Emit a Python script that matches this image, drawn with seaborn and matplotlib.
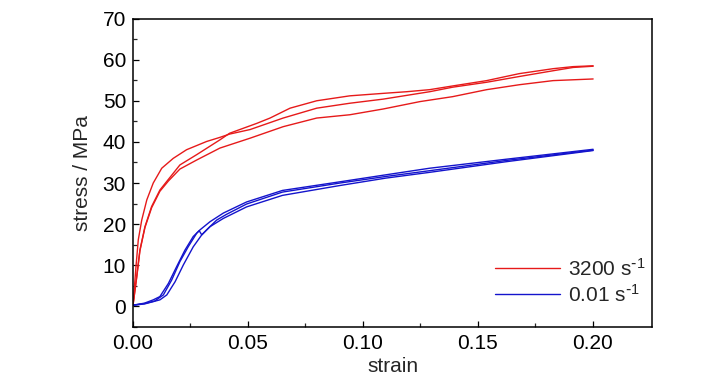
import numpy as np
import pandas as pd
import matplotlib
matplotlib.use("Agg")
import matplotlib.pyplot as plt
import seaborn as sns

# ---- data ----
rates = ["3200 s$^{\\text{-}1}$", "0.01 s$^{\\text{-}1}$"]

red_a_x = [0, 0.0016, 0.003, 0.0052, 0.0081, 0.0117, 0.0154, 0.0204, 0.0277, 0.0378, 0.042, 0.0538, 0.0596, 0.0683, 0.0799, 0.0943, 0.1088, 0.119, 0.129, 0.139, 0.1538, 0.168, 0.1827, 0.1914, 0.2001]
red_a_y = [0.3, 7.2, 13.7, 19.4, 24.3, 28.3, 30.9, 34.4, 36.9, 40.5, 42.1, 44.5, 45.8, 48.2, 50.0, 51.2, 51.8, 52.2, 52.7, 53.6, 54.9, 56.6, 57.8, 58.3, 58.5]

red_b_x = [0, 0.0013, 0.0023, 0.0038, 0.006, 0.0088, 0.0125, 0.0175, 0.0233, 0.032, 0.0378, 0.042, 0.0509, 0.0653, 0.0799, 0.0943, 0.1088, 0.129, 0.139, 0.1538, 0.168, 0.1827, 0.1914, 0.2001]
red_b_y = [0.3, 9.7, 16.2, 21.0, 25.9, 30.0, 33.6, 36.0, 38.1, 40.1, 41.1, 41.9, 43.0, 45.8, 48.2, 49.4, 50.4, 52.2, 53.3, 54.5, 55.9, 57.3, 58.1, 58.4]

red_c_x = [0, 0.0016, 0.003, 0.0052, 0.0081, 0.0117, 0.0154, 0.0204, 0.0277, 0.0378, 0.0509, 0.0653, 0.0799, 0.0943, 0.1088, 0.1248, 0.139, 0.1538, 0.168, 0.1827, 0.2001]
red_c_y = [0.3, 7.0, 13.5, 19.2, 24.0, 28.0, 30.5, 33.4, 35.6, 38.5, 40.9, 43.7, 45.8, 46.6, 48.0, 49.8, 51.0, 52.7, 53.9, 54.9, 55.3]

blue_a_x = [0, 0.005, 0.0088, 0.0117, 0.0154, 0.019, 0.0226, 0.0262, 0.0291, 0.0335, 0.0393, 0.0494, 0.065, 0.09, 0.11, 0.129, 0.1625, 0.2001]
blue_a_y = [0.3, 0.8, 1.6, 2.4, 5.6, 9.7, 13.7, 17.0, 18.6, 20.6, 22.7, 25.4, 28.2, 30.3, 32.0, 33.6, 35.8, 38.2]

blue_b_x = [0, 0.005, 0.0094, 0.0132, 0.0168, 0.0204, 0.024, 0.0277, 0.0288, 0.0299, 0.032, 0.0364, 0.0407, 0.0494, 0.065, 0.09, 0.11, 0.129, 0.1625, 0.2001]
blue_b_y = [0.3, 0.7, 1.3, 2.8, 6.4, 10.9, 14.5, 17.8, 18.4, 17.4, 18.6, 21.0, 22.4, 24.9, 27.8, 30.0, 31.6, 33.0, 35.5, 38.0]

blue_c_x = [0, 0.005, 0.0117, 0.0147, 0.0183, 0.0219, 0.0262, 0.0299, 0.0335, 0.0393, 0.0494, 0.065, 0.09, 0.11, 0.129, 0.1625, 0.2001]
blue_c_y = [0.3, 0.6, 1.6, 2.8, 6.0, 10.1, 14.5, 17.4, 19.4, 21.4, 24.2, 27.0, 29.4, 31.2, 32.6, 35.2, 37.9]

x_ticks = [0.00, 0.05, 0.10, 0.15, 0.20]
y_ticks = [0, 10, 20, 30, 40, 50, 60, 70]

curves = [
    (rates[0], "r1", red_a_x, red_a_y),
    (rates[0], "r2", red_b_x, red_b_y),
    (rates[0], "r3", red_c_x, red_c_y),
    (rates[1], "b1", blue_a_x, blue_a_y),
    (rates[1], "b2", blue_b_x, blue_b_y),
    (rates[1], "b3", blue_c_x, blue_c_y),
]
frames = []
for rate, run, xs, ys in curves:
    frames.append(pd.DataFrame({"strain": xs, "stress": ys, "rate": rate, "run": run}))
df = pd.concat(frames, ignore_index=True)

# ---- style ----
sns.set_style("ticks")
plt.rcParams["font.family"] = ["Liberation Sans", "DejaVu Sans"]
plt.rcParams["mathtext.default"] = "regular"
fs = 15

fig = plt.figure(figsize=(7.28, 3.9), dpi=100)
ax = fig.add_axes([133 / 728, 63 / 390, 519 / 728, 308.5 / 390])

palette = {rates[0]: "#e61a1a", rates[1]: "#1414cc"}
sns.lineplot(data=df, x="strain", y="stress", hue="rate", units="run",
             estimator=None, sort=False, palette=palette, linewidth=1.0, ax=ax)

ax.set_xlim(0, 0.2257)
ax.set_ylim(-5, 70)
ax.set_xticks(x_ticks)
ax.set_xticklabels([f"{v:.2f}" for v in x_ticks])
ax.set_yticks(y_ticks)
ax.set_xticks(np.arange(0.025, 0.2, 0.05), minor=True)
ax.set_yticks(np.arange(-5, 70, 10), minor=True)

for s in ax.spines.values():
    s.set_visible(True)
    s.set_linewidth(1.1)
    s.set_color("black")

ax.tick_params(axis="both", which="major", direction="in", length=4.5, width=0.9,
               labelsize=fs, colors="black", pad=5)
ax.tick_params(axis="both", which="minor", direction="in", length=3, width=0.9)
ax.tick_params(top=False, right=False, which="both")

ax.set_xlabel("strain", fontsize=fs, labelpad=3)
ax.set_ylabel("stress / MPa", fontsize=fs, labelpad=8)

handles, labels = ax.get_legend_handles_labels()
leg = ax.legend(handles, labels, loc="center left", bbox_to_anchor=(0.6975, 0.1475),
                frameon=False, fontsize=fs, handlelength=65 / (fs * 100 / 72),
                handletextpad=0.4, labelspacing=0.2, borderpad=0, borderaxespad=0)

fig.savefig("out.png", dpi=100)
